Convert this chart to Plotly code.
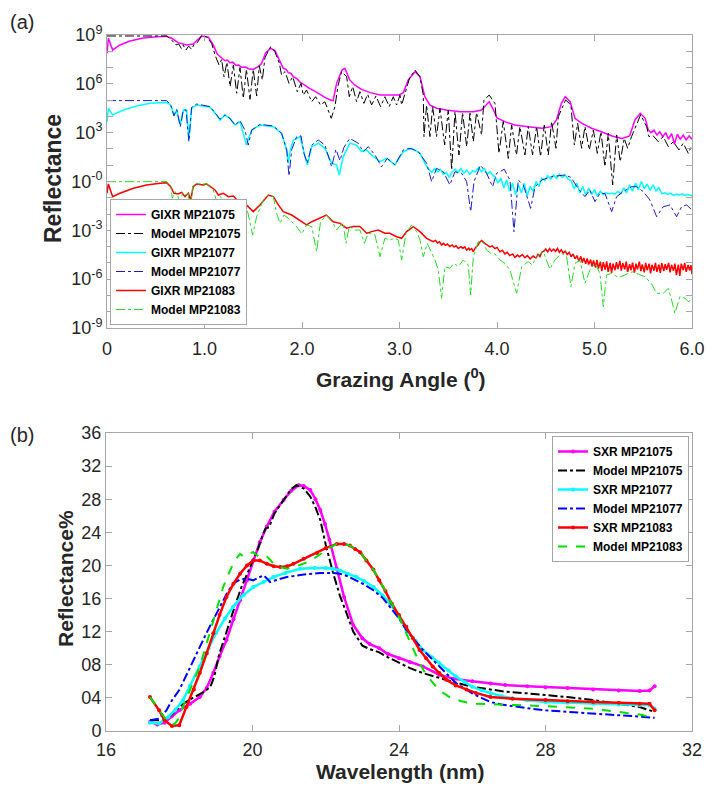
import plotly.graph_objects as go

# ---------------- Panel (a): GIXR, values given as log10(reflectance) ----------------
gixr_75 = [(0.00,7.87),(0.014,8.80),(0.058,8.08),(0.133,8.39),(0.236,8.63),(0.373,8.82),(0.51,8.90),(0.612,8.92),
    (0.663,8.80),(0.73,8.53),(0.817,8.39),(0.885,8.45),(0.926,8.69),(0.97,8.94),(1.04,8.86),(1.09,8.39),(1.13,7.83),
    (1.176,7.57),(1.21,7.42),(1.235,7.46),(1.26,7.30),(1.29,7.33),(1.32,7.14),(1.35,7.16),(1.38,7.02),(1.42,7.03),
    (1.45,6.93),(1.50,6.89),(1.552,7.06),(1.586,7.26),(1.627,7.90),(1.678,8.18),(1.723,8.04),(1.768,7.46),(1.808,6.95),
    (1.835,6.90),(1.86,6.69),(1.885,6.65),(1.911,6.44),(1.95,6.30),(1.98,6.10),(2.02,5.95),(2.08,5.70),(2.13,5.55),
    (2.18,5.35),(2.24,5.15),(2.29,5.01),(2.32,4.97),(2.355,6.03),(2.41,6.85),(2.44,6.95),(2.49,6.24),(2.54,5.93),
    (2.61,5.66),(2.70,5.46),(2.80,5.31),(2.90,5.31),(2.99,5.31),(3.04,5.46),(3.09,6.24),(3.16,6.75),(3.21,6.44),
    (3.26,5.21),(3.31,4.70),(3.38,4.50),(3.48,4.39),(3.62,4.29),(3.76,4.29),(3.84,4.39),(3.87,4.60),(3.92,4.90),
    (3.96,4.45),(4.00,3.90),(4.08,3.68),(4.18,3.47),(4.32,3.37),(4.46,3.27),(4.56,3.37),(4.61,3.78),(4.66,4.80),
    (4.70,5.21),(4.75,4.90),(4.80,3.88),(4.87,3.57),(4.97,3.27),(5.07,3.06),(5.18,2.80),(5.28,2.65),(5.36,2.80),
    (5.415,3.78),(5.47,4.19),(5.52,3.88),(5.55,3.20),(5.58,3.00),(5.61,3.15),(5.64,2.85),(5.67,3.05),(5.70,2.75),
    (5.73,3.00),(5.76,2.60),(5.79,2.95),(5.82,2.30),(5.85,2.90),(5.88,2.60),(5.91,2.85),(5.94,2.55),(5.97,2.80),(6.00,2.60)]

model_75 = [(0.00,8.94),(0.612,8.94),(0.663,8.69),(0.707,8.39),(0.735,8.45),(0.762,8.18),(0.78,8.39),(0.81,8.08),
    (0.837,8.32),(0.868,8.12),(0.896,8.45),(0.926,8.53),(0.97,8.94),(1.02,8.90),(1.073,8.49),(1.108,7.77),(1.149,7.16),
    (1.176,7.50),(1.20,6.44),(1.23,7.32),(1.262,5.83),(1.296,7.16),(1.33,5.42),(1.364,7.00),(1.398,5.11),(1.43,6.89),
    (1.467,5.05),(1.50,6.89),(1.535,5.25),(1.562,7.10),(1.593,6.24),(1.62,7.60),(1.678,8.28),(1.72,8.00),(1.768,7.26),
    (1.79,6.54),(1.826,6.75),(1.867,6.03),(1.904,6.44),(1.952,5.52),(1.99,6.03),(2.013,5.31),(2.047,5.62),(2.10,4.90),
    (2.14,5.21),(2.19,4.70),(2.235,4.90),(2.30,3.88),(2.338,4.60),(2.37,5.90),(2.406,6.75),(2.458,6.44),(2.485,5.21),
    (2.52,5.83),(2.56,4.90),(2.594,5.52),(2.635,4.80),(2.673,5.36),(2.714,4.70),(2.758,5.25),(2.806,4.60),(2.85,5.21),
    (2.895,4.60),(2.936,5.21),(2.97,4.70),(3.005,5.31),(3.022,4.70),(3.056,5.42),(3.10,6.30),(3.158,6.85),(3.21,6.44),
    (3.244,5.31),(3.251,2.76),(3.278,4.70),(3.312,2.76),(3.34,4.60),(3.38,2.76),(3.415,4.50),(3.463,2.24),(3.50,4.39),
    (3.535,0.71),(3.569,4.29),(3.61,1.63),(3.647,4.23),(3.689,2.14),(3.723,4.19),(3.757,2.45),(3.79,4.23),(3.842,2.86),
    (3.866,5.00),(3.92,5.31),(3.979,4.80),(4.02,1.73),(4.064,3.68),(4.116,1.42),(4.15,3.47),(4.20,1.63),(4.235,3.37),
    (4.287,1.63),(4.32,3.37),(4.365,1.63),(4.406,3.37),(4.447,1.53),(4.485,3.47),(4.526,1.63),(4.56,3.68),(4.605,2.04),
    (4.629,3.98),(4.704,5.01),(4.758,4.70),(4.793,2.24),(4.827,3.57),(4.868,2.04),(4.902,3.37),(4.947,1.94),(4.988,3.16),
    (5.029,1.73),(5.066,3.06),(5.107,0.91),(5.141,2.96),(5.186,-0.21),(5.227,2.86),(5.264,1.22),(5.305,2.65),(5.34,2.04),
    (5.38,2.76),(5.473,4.09),(5.535,3.37),(5.558,2.76),(5.603,2.80),(5.654,2.45),(5.705,2.76),(5.757,2.14),(5.808,2.45),
    (5.866,1.94),(5.91,2.35),(5.962,1.73),(6.00,2.24)]

gixr_77 = [(0.00,3.68),(0.014,4.50),(0.058,4.09),(0.168,4.39),(0.304,4.64),(0.44,4.80),(0.612,4.86),(0.653,4.70),
    (0.687,4.09),(0.715,4.39),(0.749,3.47),(0.783,4.39),(0.817,4.39),(0.84,2.55),(0.868,4.50),(0.92,4.70),(1.056,4.56),
    (1.125,4.09),(1.159,3.78),(1.21,4.09),(1.26,3.88),(1.313,3.47),(1.364,3.68),(1.43,2.24),(1.484,3.16),(1.569,3.47),
    (1.706,3.37),(1.791,2.96),(1.843,1.94),(1.86,1.12),(1.88,1.94),(1.911,2.55),(1.98,2.75),(2.013,1.94),(2.054,1.02),
    (2.10,2.14),(2.167,2.35),(2.235,2.04),(2.304,1.12),(2.355,1.02),(2.382,0.40),(2.423,1.53),(2.49,2.35),(2.56,2.24),
    (2.61,1.84),(2.66,1.94),(2.714,1.63),(2.80,1.22),(2.868,1.42),(2.953,1.02),(3.039,1.84),(3.124,2.04),(3.21,1.73),
    (3.278,0.91),(3.30,0.75),(3.33,0.55),(3.36,0.80),(3.39,0.60),(3.42,0.75),(3.45,0.45),(3.48,0.55),(3.51,0.25),
    (3.54,0.60),(3.57,0.75),(3.60,0.55),(3.63,0.80),(3.66,0.50),(3.69,0.70),(3.72,0.45),(3.75,0.65),(3.78,0.60),
    (3.81,0.85),(3.84,0.60),(3.87,0.80),(3.90,0.45),(3.93,0.60),(3.96,0.35),(3.98,0.30),(4.01,-0.10),(4.04,0.20),
    (4.07,-0.40),(4.10,0.10),(4.13,-0.60),(4.16,-0.10),(4.19,-0.80),(4.22,-0.20),(4.25,-0.70),(4.28,-0.10),(4.31,-0.90),
    (4.34,-0.30),(4.37,-0.60),(4.40,0.00),(4.43,-0.30),(4.46,0.20),(4.49,0.05),(4.52,0.35),(4.55,0.15),(4.58,0.40),
    (4.61,0.20),(4.64,0.45),(4.67,0.25),(4.70,0.40),(4.73,0.15),(4.76,0.05),(4.79,-0.45),(4.82,-0.10),(4.85,-0.70),
    (4.88,-0.30),(4.91,-0.85),(4.94,-0.40),(4.97,-0.80),(5.00,-0.50),(5.03,-0.90),(5.06,-0.60),(5.09,-0.80),(5.12,-0.70),
    (5.15,-0.75),(5.18,-0.72),(5.21,-0.78),(5.24,-0.60),(5.27,-0.75),(5.30,-0.40),(5.33,-0.70),(5.36,-0.20),(5.39,-0.60),
    (5.42,-0.10),(5.45,-0.50),(5.48,0.00),(5.51,-0.45),(5.54,-0.15),(5.57,-0.55),(5.60,-0.20),(5.63,-0.60),(5.66,-0.35),
    (5.69,-0.75),(5.72,-0.70),(5.75,-0.80),(5.78,-0.72),(5.81,-0.85),(5.84,-0.78),(5.87,-0.82),(5.90,-0.76),(5.93,-0.85),
    (5.96,-0.80),(6.00,-0.88)]

model_77 = [(0.00,4.97),(0.612,4.97),(0.653,4.70),(0.687,4.02),(0.715,4.43),(0.752,3.37),(0.783,4.39),(0.81,4.39),
    (0.84,2.45),(0.868,4.56),(0.92,4.76),(1.056,4.60),(1.125,4.09),(1.159,3.82),(1.21,4.09),(1.26,3.88),(1.313,3.47),
    (1.364,3.74),(1.415,3.16),(1.449,2.24),(1.484,3.16),(1.569,3.51),(1.706,3.41),(1.791,2.96),(1.843,1.94),(1.867,0.34),
    (1.894,1.94),(1.945,2.76),(1.99,2.80),(2.02,1.73),(2.054,1.12),(2.10,2.24),(2.167,2.55),(2.235,2.24),(2.304,0.91),
    (2.348,1.98),(2.389,1.28),(2.43,2.10),(2.49,2.65),(2.577,2.35),(2.628,1.84),(2.68,2.14),(2.748,1.63),(2.816,0.91),
    (2.875,1.42),(2.953,1.02),(3.039,1.94),(3.107,2.04),(3.193,1.84),(3.278,1.12),(3.33,-0.01),(3.38,0.81),(3.449,0.60),
    (3.517,-0.21),(3.569,0.60),(3.637,0.50),(3.689,-0.01),(3.73,-1.85),(3.764,-0.01),(3.83,1.00),(3.894,0.50),
    (3.955,-0.32),(3.996,0.50),(4.074,0.75),(4.133,0.09),(4.174,-3.08),(4.218,0.09),(4.27,-0.21),(4.345,-1.65),
    (4.39,-0.32),(4.458,0.09),(4.56,0.30),(4.697,0.40),(4.76,0.25),(4.834,-0.45),(4.902,-0.93),(4.953,-0.52),
    (5.005,-1.24),(5.056,-0.73),(5.107,-0.73),(5.176,-1.85),(5.227,-0.93),(5.295,-0.62),(5.38,-0.32),(5.432,-0.32),
    (5.50,-0.62),(5.569,-1.14),(5.637,-2.16),(5.705,-1.55),(5.774,-1.44),(5.842,-2.16),(5.893,-1.55),(5.945,-1.44),
    (6.00,-1.75)]

gixr_83 = [(0.00,-0.72),(0.014,-0.15),(0.058,-0.93),(0.133,-0.72),(0.27,-0.42),(0.407,-0.21),(0.544,-0.11),
    (0.612,-0.07),(0.653,-0.32),(0.687,-0.72),(0.73,-0.77),(0.766,-0.67),(0.80,-0.93),(0.834,-0.72),(0.858,-1.14),
    (0.885,-0.32),(0.92,-0.15),(0.988,-0.21),(1.02,-0.15),(1.108,-0.52),(1.142,-0.83),(1.193,-0.72),(1.244,-0.93),
    (1.296,-0.89),(1.364,-1.34),(1.43,-1.44),(1.50,-1.85),(1.569,-1.44),(1.655,-0.83),(1.706,-0.93),(1.757,-1.44),
    (1.808,-1.85),(1.894,-2.06),(1.98,-2.40),(2.047,-2.67),(2.10,-2.47),(2.18,-2.26),(2.25,-2.06),(2.32,-2.47),
    (2.39,-2.57),(2.458,-2.87),(2.526,-2.77),(2.594,-2.77),(2.663,-3.18),(2.714,-3.08),(2.782,-2.98),(2.85,-3.18),
    (2.90,-3.18),(2.97,-3.39),(3.022,-3.49),(3.073,-3.08),(3.141,-2.77),(3.21,-3.08),(3.278,-3.49),(3.346,-3.69),
    (3.37,-3.62),(3.39,-3.78),(3.41,-3.70),(3.432,-3.90),(3.45,-3.80),(3.47,-3.92),(3.49,-3.84),(3.517,-4.00),
    (3.54,-3.90),(3.56,-4.02),(3.58,-3.95),(3.603,-4.12),(3.63,-4.00),(3.65,-4.10),(3.67,-4.02),(3.688,-4.21),
    (3.71,-4.10),(3.72,-4.20),(3.74,-4.12),(3.757,-4.31),(3.78,-4.05),(3.80,-3.95),(3.82,-3.75),(3.842,-3.62),
    (3.865,-3.78),(3.885,-3.85),(3.905,-3.92),(3.928,-4.02),(3.95,-3.95),(3.979,-4.12),(4.00,-4.05),(4.03,-4.32),
    (4.055,-4.22),(4.081,-4.45),(4.105,-4.35),(4.13,-4.55),(4.16,-4.45),(4.184,-4.66),(4.21,-4.52),(4.23,-4.62),
    (4.26,-4.50),(4.287,-4.68),(4.31,-4.55),(4.34,-4.75),(4.37,-4.58),(4.40,-4.70),(4.42,-4.48),(4.44,-4.62),
    (4.46,-4.35),(4.48,-4.28),(4.50,-4.15),(4.52,-4.32),(4.54,-4.12),(4.56,-4.28),(4.58,-4.15),(4.60,-4.30),(4.62,-4.12),
    (4.64,-4.35),(4.66,-4.20),(4.68,-4.40),(4.70,-4.28),(4.72,-4.48),(4.74,-4.35),(4.76,-4.62),(4.78,-4.45),(4.80,-4.75),
    (4.82,-4.55),(4.84,-4.90),(4.86,-4.60),(4.875,-4.98),(4.89,-4.70),(4.91,-5.05),(4.925,-4.72),(4.94,-5.10),
    (4.96,-4.80),(4.975,-5.22),(4.99,-4.85),(5.01,-5.28),(5.025,-4.82),(5.04,-5.35),(5.06,-4.92),(5.075,-5.50),
    (5.09,-4.95),(5.11,-5.42),(5.125,-4.90),(5.14,-5.55),(5.16,-5.00),(5.175,-5.62),(5.19,-5.05),(5.21,-5.45),
    (5.225,-4.95),(5.24,-5.38),(5.26,-4.88),(5.275,-5.48),(5.29,-5.02),(5.31,-5.40),(5.325,-4.92),(5.34,-5.55),
    (5.36,-5.08),(5.375,-5.45),(5.39,-4.98),(5.41,-5.60),(5.425,-5.05),(5.44,-5.40),(5.46,-4.92),(5.475,-5.50),
    (5.49,-5.10),(5.51,-5.58),(5.525,-5.00),(5.54,-5.45),(5.56,-5.05),(5.575,-5.65),(5.59,-5.12),(5.61,-5.48),
    (5.625,-5.00),(5.64,-5.55),(5.66,-5.10),(5.675,-5.62),(5.69,-5.02),(5.71,-5.50),(5.725,-5.08),(5.74,-5.42),
    (5.76,-5.00),(5.775,-5.58),(5.79,-5.12),(5.81,-5.48),(5.825,-5.05),(5.84,-5.75),(5.86,-5.10),(5.875,-5.80),
    (5.89,-5.05),(5.91,-5.45),(5.925,-5.00),(5.94,-5.55),(5.96,-5.12),(5.975,-5.45),(5.99,-5.15),(6.00,-5.70)]

model_83 = [(0.00,-0.01),(0.612,-0.01),(0.653,-0.32),(0.67,-1.03),(0.697,-0.62),(0.72,-0.83),(0.749,-1.24),
    (0.776,-0.73),(0.81,-0.83),(0.834,-0.73),(0.851,-2.26),(0.878,-0.28),(0.92,-0.15),(1.02,-0.15),(1.09,-0.52),
    (1.125,-1.24),(1.159,-0.93),(1.20,-1.14),(1.244,-2.36),(1.296,-1.44),(1.347,-1.55),(1.398,-1.44),(1.439,-1.75),
    (1.494,-3.28),(1.535,-2.16),(1.603,-1.14),(1.655,-0.83),(1.706,-0.93),(1.74,-1.95),(1.774,-2.57),(1.815,-2.06),
    (1.86,-2.26),(1.894,-2.47),(1.945,-2.77),(1.997,-3.22),(2.047,-2.67),(2.10,-2.77),(2.15,-4.31),(2.19,-2.47),
    (2.25,-2.06),(2.32,-2.57),(2.355,-2.98),(2.383,-2.77),(2.423,-2.57),(2.45,-3.80),(2.485,-2.77),(2.543,-2.98),
    (2.594,-2.98),(2.64,-3.80),(2.68,-3.18),(2.748,-3.28),(2.80,-4.62),(2.85,-3.49),(2.90,-3.59),(2.953,-3.49),
    (2.987,-3.59),(3.022,-4.82),(3.066,-3.18),(3.124,-2.67),(3.175,-3.08),(3.21,-3.59),(3.244,-4.62),(3.285,-3.80),
    (3.33,-4.41),(3.364,-4.82),(3.398,-5.44),(3.432,-7.17),(3.466,-5.23),(3.517,-5.33),(3.558,-5.03),(3.603,-5.23),
    (3.654,-4.82),(3.705,-5.13),(3.73,-6.97),(3.757,-4.62),(3.808,-3.70),(3.86,-3.75),(3.893,-4.21),(3.934,-4.41),
    (3.979,-4.45),(4.03,-4.82),(4.081,-5.03),(4.133,-5.44),(4.201,-6.87),(4.253,-5.23),(4.32,-4.92),(4.362,-5.13),
    (4.406,-4.62),(4.475,-4.31),(4.543,-5.39),(4.594,-4.82),(4.663,-4.41),(4.714,-4.62),(4.758,-6.46),(4.80,-5.03),
    (4.851,-4.82),(4.902,-6.25),(4.953,-5.44),(5.005,-5.03),(5.056,-5.64),(5.09,-7.69),(5.124,-5.74),(5.176,-5.64),
    (5.244,-5.90),(5.30,-5.75),(5.39,-5.55),(5.45,-5.70),(5.52,-5.85),(5.586,-6.30),(5.637,-6.87),(5.705,-6.87),
    (5.757,-6.56),(5.791,-7.28),(5.825,-8.10),(5.876,-7.07),(5.928,-7.17),(5.962,-7.38),(6.00,-7.24)]

# ---------------- Panel (b): SXR reflectance (%) vs wavelength (nm) ----------------
sxr_75 = [(17.2,1.1),(17.4,0.8),(17.6,1.0),(17.8,1.8),(18.0,2.5),(18.3,3.3),(18.56,4.1),(18.75,5.2),(18.93,7.0),
    (19.1,9.0),(19.29,11.0),(19.48,13.5),(19.66,15.8),(19.85,18.2),(20.02,20.6),(20.2,22.8),(20.39,24.7),(20.6,26.5),
    (20.85,27.9),(21.05,29.0),(21.26,29.7),(21.4,29.6),(21.58,29.1),(21.72,28.0),(21.85,26.7),(21.98,25.0),(22.1,23.1),
    (22.3,19.6),(22.5,16.2),(22.75,12.8),(23.0,11.2),(23.2,10.5),(23.46,10.0),(23.7,9.3),(24.0,8.8),(24.3,8.3),
    (24.65,7.8),(25.1,6.8),(25.5,6.3),(26.0,6.0),(26.5,5.75),(26.9,5.56),(27.5,5.4),(28.0,5.3),(28.6,5.2),(29.3,5.0),
    (30.0,4.9),(30.57,4.83),(30.84,4.9),(30.98,5.4)]
mod_75 = [(17.2,1.3),(17.57,1.3),(17.8,2.0),(18.0,2.9),(18.25,3.7),(18.5,4.35),(18.7,4.8),(18.85,5.35),(18.95,6.5),
    (19.1,9.4),(19.25,11.5),(19.4,13.4),(19.55,15.5),(19.7,17.4),(19.85,19.0),(20.02,20.6),(20.15,22.0),(20.3,23.9),
    (20.36,24.5),(20.45,24.6),(20.6,26.3),(20.85,27.9),(21.05,29.2),(21.2,29.7),(21.4,29.3),(21.58,28.3),(21.72,27.0),
    (21.85,25.5),(22.0,22.5),(22.2,19.1),(22.39,16.3),(22.57,14.2),(22.75,12.0),(22.9,11.0),(23.0,10.3),(23.2,9.9),
    (23.46,9.5),(23.7,8.9),(24.0,8.2),(24.3,7.6),(24.65,7.0),(25.1,6.4),(25.5,5.9),(26.0,5.35),(26.5,5.0),(26.9,4.75),
    (27.5,4.55),(28.0,4.35),(28.6,4.1),(29.3,3.74),(30.0,3.3),(30.57,2.9),(30.98,2.3)]
sxr_77 = [(17.2,1.0),(17.45,0.9),(17.7,1.7),(17.9,2.6),(18.1,3.7),(18.3,5.5),(18.56,7.8),(18.8,10.0),(19.0,11.8),
    (19.25,13.6),(19.47,15.0),(19.75,16.4),(20.02,17.4),(20.3,18.0),(20.57,18.6),(20.9,19.1),(21.3,19.6),(21.7,19.7),
    (22.0,19.7),(22.2,19.6),(22.39,19.4),(22.6,19.0),(22.84,18.6),(23.05,18.1),(23.3,17.4),(23.55,16.4),(23.75,15.4),
    (24.0,13.8),(24.2,12.2),(24.45,10.9),(24.65,9.8),(24.9,8.9),(25.1,8.2),(25.35,7.3),(25.55,6.6),(25.8,5.9),
    (26.0,5.35),(26.25,4.9),(26.5,4.55),(26.8,4.2),(27.1,3.95),(27.5,3.7),(28.0,3.5),(28.6,3.4),(29.3,3.3),(30.0,3.2),
    (30.57,3.15),(30.84,3.1),(30.98,2.7)]
mod_77 = [(17.2,1.3),(17.45,1.5),(17.65,2.5),(17.8,3.7),(18.0,4.95),(18.2,6.8),(18.38,8.6),(18.55,10.2),(18.74,11.8),
    (18.9,13.2),(19.1,15.0),(19.3,16.6),(19.47,17.8),(19.66,18.3),(19.84,18.4),(20.02,18.2),(20.15,18.5),(20.3,18.8),
    (20.4,18.4),(20.48,18.0),(20.7,18.3),(20.94,18.6),(21.4,18.9),(21.85,19.1),(22.2,19.1),(22.39,19.0),(22.6,18.7),
    (22.84,18.2),(23.05,17.7),(23.3,17.0),(23.55,16.1),(23.75,15.0),(24.0,13.6),(24.2,12.2),(24.45,10.9),(24.65,9.8),
    (24.9,8.7),(25.1,7.8),(25.35,6.8),(25.55,5.8),(25.8,5.1),(26.0,4.55),(26.25,4.0),(26.5,3.5),(26.8,3.2),(27.1,3.0),
    (27.5,2.75),(28.0,2.5),(28.6,2.3),(29.3,2.1),(30.0,1.9),(30.57,1.75),(30.98,1.6)]
sxr_83 = [(17.2,4.1),(17.45,2.5),(17.6,1.3),(17.8,0.6),(18.0,0.7),(18.2,2.9),(18.4,5.0),(18.56,7.0),(18.75,9.4),
    (18.93,11.8),(19.1,14.0),(19.29,16.2),(19.48,17.8),(19.66,19.0),(19.85,20.0),(20.02,20.6),(20.2,20.6),(20.39,20.2),
    (20.58,19.9),(20.76,19.8),(20.95,19.9),(21.12,20.2),(21.4,20.8),(21.76,21.5),(22.0,22.1),(22.3,22.6),(22.5,22.6),
    (22.66,22.4),(22.8,22.0),(22.94,21.6),(23.11,20.6),(23.3,19.5),(23.46,18.2),(23.63,16.9),(23.8,15.4),(24.0,14.0),
    (24.2,12.6),(24.38,11.2),(24.56,9.8),(24.74,8.8),(24.92,7.8),(25.1,7.0),(25.29,6.2),(25.55,5.5),(25.84,5.0),
    (26.1,4.6),(26.5,4.1),(27.1,3.9),(28.0,3.74),(28.6,3.6),(29.3,3.5),(30.0,3.4),(30.57,3.3),(30.84,3.3),(30.98,2.5)]
mod_83 = [(17.2,4.1),(17.45,2.5),(17.7,1.0),(17.87,0.8),(18.0,1.6),(18.1,2.9),(18.3,5.0),(18.56,7.8),(18.75,10.6),
    (18.93,13.4),(19.05,15.3),(19.2,17.4),(19.35,19.0),(19.47,20.2),(19.57,20.9),(19.66,21.4),(19.75,21.1),(19.84,21.2),
    (19.93,21.5),(20.02,21.6),(20.1,21.3),(20.2,21.0),(20.3,21.1),(20.39,21.1),(20.5,20.6),(20.57,20.2),(20.75,19.8),
    (20.94,19.6),(21.2,19.9),(21.5,20.4),(21.8,21.2),(22.0,21.9),(22.3,22.6),(22.5,22.6),(22.66,22.4),(22.8,22.0),
    (22.94,21.6),(23.11,20.6),(23.3,19.5),(23.46,18.2),(23.63,16.9),(23.8,15.4),(24.0,13.8),(24.2,11.8),(24.38,10.0),
    (24.56,8.2),(24.74,6.8),(24.92,5.8),(25.1,4.9),(25.38,4.1),(25.7,3.6),(26.0,3.3),(26.5,3.2),(27.1,3.15),(28.0,3.0),
    (28.6,2.9),(29.3,2.7),(30.0,2.3),(30.57,2.0),(30.98,1.6)]

top_tick_vals = [-9, -6, -3, 0, 3, 6, 9]
top_tick_text = ["10<sup>-9</sup>", "10<sup>-6</sup>", "10<sup>-3</sup>", "10<sup>-0</sup>",
                 "10<sup>3</sup>", "10<sup>6</sup>", "10<sup>9</sup>"]
angle_ticks = [0, 1, 2, 3, 4, 5, 6]
angle_text = ["0", "1.0", "2.0", "3.0", "4.0", "5.0", "6.0"]
wl_ticks = [16, 20, 24, 28, 32]
refl_ticks = [0, 4, 8, 12, 16, 20, 24, 28, 32, 36]
refl_text = ["0", "04", "08", "12", "16", "20", "24", "28", "32", "36"]

FONT = "Liberation Sans, Arial, sans-serif"
AX = "#a6a6a6"
TXT = "#262626"

fig = go.Figure()

def top_trace(pts, name, color, dash, width):
    xs = [p[0] for p in pts]
    ys = [10 ** p[1] for p in pts]
    fig.add_trace(go.Scatter(x=xs, y=ys, mode="lines", name=name, xaxis="x", yaxis="y", legend="legend",
                             line=dict(color=color, width=width, dash=dash)))

top_trace(gixr_75, "GIXR MP21075", "#ff00ff", "solid", 1.5)
top_trace(model_75, "Model MP21075", "#000000", "dashdot", 1.0)
top_trace(gixr_77, "GIXR MP21077", "#00ffff", "solid", 1.5)
top_trace(model_77, "Model MP21077", "#1a1acc", "dashdot", 1.0)
top_trace(gixr_83, "GIXR MP21083", "#ff0000", "solid", 1.5)
top_trace(model_83, "Model MP21083", "#22dd22", "dashdot", 1.0)

def bot_trace(pts, name, color, dash, width, markers):
    xs = [p[0] for p in pts]
    ys = [p[1] for p in pts]
    fig.add_trace(go.Scatter(x=xs, y=ys, mode="lines+markers" if markers else "lines", name=name,
                             xaxis="x2", yaxis="y2", legend="legend2",
                             line=dict(color=color, width=width, dash=dash),
                             marker=dict(size=4, color=color)))

bot_trace(sxr_75, "SXR MP21075", "#ff00ff", "solid", 2.5, True)
bot_trace(mod_75, "Model MP21075", "#000000", "dashdot", 2, False)
bot_trace(sxr_77, "SXR MP21077", "#00ffff", "solid", 2.5, True)
bot_trace(mod_77, "Model MP21077", "#0000ff", "dashdot", 2, False)
bot_trace(sxr_83, "SXR MP21083", "#ff0000", "solid", 2.5, True)
bot_trace(mod_83, "Model MP21083", "#00e000", "dash", 2, False)

W, H = 707, 786
def px(v): return v / W
def py(v): return 1 - v / H

axis_common = dict(showline=True, linecolor=AX, linewidth=1, mirror="ticks", ticks="inside", ticklen=6,
                   tickcolor=AX, showgrid=False, zeroline=False, automargin=False,
                   ticklabeloverflow="allow",
                   tickfont=dict(family=FONT, size=18, color=TXT))

legend_common = dict(bgcolor="white", bordercolor=AX, borderwidth=1, itemwidth=30, tracegroupgap=0,
                     font=dict(family=FONT, size=12, color="black", weight="bold"))

fig.update_layout(
    template="none",
    width=W, height=H, margin=dict(l=0, r=0, t=0, b=0, pad=0, autoexpand=False),
    paper_bgcolor="white", plot_bgcolor="white",
    xaxis=dict(domain=[px(107), px(692)], range=[0, 6], anchor="y", tickmode="array",
               tickvals=angle_ticks, ticktext=angle_text, ticklabelstandoff=4, **axis_common),
    yaxis=dict(domain=[py(328), py(35)], type="log", range=[-9, 9], anchor="x", tickmode="array",
               tickvals=[10 ** v for v in top_tick_vals], ticktext=top_tick_text,
               minor=dict(tickmode="array", tickvals=[10 ** k for k in range(-9, 10)], ticks="inside",
                          ticklen=6, tickcolor=AX),
               **axis_common),
    xaxis2=dict(domain=[px(106), px(692)], range=[16, 32], anchor="y2", tickmode="array",
                tickvals=wl_ticks, ticklabelstandoff=2, **axis_common),
    yaxis2=dict(domain=[py(731), py(433)], range=[0, 36], anchor="x2", tickmode="array",
                tickvals=refl_ticks, ticktext=refl_text, **axis_common),
    legend=dict(x=px(110), y=py(325), xanchor="left", yanchor="bottom", **legend_common),
    legend2=dict(x=px(689), y=py(436), xanchor="right", yanchor="top", **legend_common),
    showlegend=True,
)

ann = [
    dict(text="(a)", x=px(22), y=py(22), font=dict(family=FONT, size=20, color=TXT)),
    dict(text="(b)", x=px(22), y=py(435), font=dict(family=FONT, size=20, color=TXT)),
    dict(text="<b>Reflectance</b>", x=px(53), y=py(178), textangle=-90, font=dict(family=FONT, size=23, color=TXT)),
    dict(text="<b>Grazing Angle (<sup>0</sup>)</b>", x=px(401), y=py(378), font=dict(family=FONT, size=21, color=TXT)),
    dict(text="<b>Reflectance%</b>", x=px(65), y=py(579), textangle=-90, font=dict(family=FONT, size=21, color=TXT)),
    dict(text="<b>Wavelength (nm)</b>", x=px(400), y=py(771), font=dict(family=FONT, size=21, color=TXT)),
]
for a in ann:
    fig.add_annotation(xref="paper", yref="paper", xanchor="center", yanchor="middle", showarrow=False, **a)

# remove the default page margin so the 707x786 figure fills the window exactly
fig.write_html("out.html", config={"displayModeBar": False},
               post_script="document.body.style.margin='0px';document.body.style.overflow='hidden';")
